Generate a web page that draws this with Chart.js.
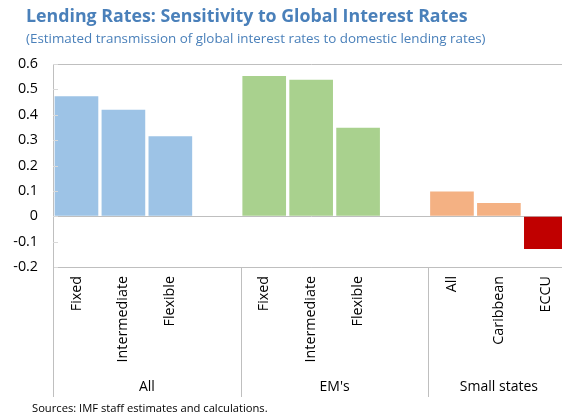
<!DOCTYPE html>
<html>
<head>
<meta charset="utf-8">
<script src="https://cdn.jsdelivr.net/npm/chart.js@4/dist/chart.umd.min.js"></script>
<style>
  html, body { margin: 0; padding: 0; background: #fff; overflow: hidden; }
  #wrap { width: 562px; height: 416px; overflow: hidden; position: relative; }
  canvas { display: block; }
</style>
</head>
<body>
<div id="wrap"><canvas id="chart" width="572" height="416"></canvas></div>
<script>
// Category labels along the x axis (blank entries separate the groups)
const categories = ["Fixed", "Intermediate", "Flexible", "", "Fixed", "Intermediate", "Flexible", "", "All", "Caribbean", "ECCU"];
// Estimated pass-through of global rates to domestic lending rates
const sensitivity = [0.473, 0.42, 0.315, null, 0.553, 0.538, 0.349, null, 0.098, 0.052, -0.129];
// Group captions under the category labels and how many slots each spans
const groupLabels = ["All", "EM's", "Small states"];
const groupSpans = [4, 4, 3];
// Value axis ticks
const yTicks = [0.6, 0.5, 0.4, 0.3, 0.2, 0.1, 0, -0.1, -0.2];

const barColors = ["#9DC3E6", "#9DC3E6", "#9DC3E6", "#9DC3E6",
                   "#A9D18E", "#A9D18E", "#A9D18E", "#A9D18E",
                   "#F4B183", "#F4B183", "#C00000"];

const FONT = "'Open Sans', 'Noto Sans', sans-serif";
const AXIS_GRAY = "#BFBFBF";

// Title, subtitle, inner tick marks, group dividers, group captions and source note
const decorations = {
  id: "decorations",
  afterDraw(chart) {
    const ctx = chart.ctx;
    const area = chart.chartArea;
    const x = chart.scales.x;
    const y = chart.scales.y;
    ctx.save();

    // inner tick marks on the value axis
    ctx.strokeStyle = "#D9D9D9";
    ctx.lineWidth = 1;
    yTicks.forEach(v => {
      const py = Math.round(y.getPixelForValue(v)) + 0.5;
      ctx.beginPath();
      ctx.moveTo(area.left, py);
      ctx.lineTo(area.left + 5, py);
      ctx.stroke();
    });

    // vertical dividers in the label area
    const half = (x.getPixelForValue(1) - x.getPixelForValue(0)) / 2;
    const bottom = 397;
    ctx.strokeStyle = AXIS_GRAY;
    let idx = 0;
    const edges = [area.left];
    groupSpans.forEach(n => { idx += n; edges.push(x.getPixelForValue(idx - 1) + half); });
    edges.forEach(px => {
      const ax = Math.round(px) + 0.5;
      ctx.beginPath();
      ctx.moveTo(ax, area.bottom);
      ctx.lineTo(ax, bottom);
      ctx.stroke();
    });

    // group captions
    ctx.fillStyle = "#000";
    ctx.font = "14px " + FONT;
    ctx.textAlign = "center";
    ctx.textBaseline = "middle";
    groupLabels.forEach((g, i) => {
      ctx.fillText(g, (edges[i] + edges[i + 1]) / 2, 387);
    });

    // headings
    ctx.textAlign = "left";
    ctx.textBaseline = "alphabetic";
    ctx.fillStyle = "#4A80BA";
    ctx.font = "bold 17.8px " + FONT;
    ctx.fillText("Lending Rates: Sensitivity to Global Interest Rates", 26, 22);
    ctx.font = "13.4px " + FONT;
    ctx.fillText("(Estimated transmission of global interest rates to domestic lending rates)", 26, 43);

    // source note
    ctx.fillStyle = "#000";
    ctx.font = "11.2px " + FONT;
    ctx.fillText("Sources: IMF staff estimates and calculations.", 32, 412);
    ctx.restore();
  }
};

new Chart(document.getElementById("chart"), {
  type: "bar",
  data: {
    labels: categories,
    datasets: [{
      data: sensitivity,
      backgroundColor: barColors,
      borderWidth: 0,
      barPercentage: 0.93,
      categoryPercentage: 1.0
    }]
  },
  options: {
    responsive: false,
    animation: false,
    layout: { padding: { top: 64, left: 0, right: 0, bottom: 19 } },
    plugins: {
      legend: { display: false },
      tooltip: { enabled: false },
      title: { display: false }
    },
    scales: {
      x: {
        grid: { display: false, drawTicks: false },
        border: { display: true, color: AXIS_GRAY, width: 1 },
        ticks: {
          autoSkip: false,
          minRotation: 90,
          maxRotation: 90,
          padding: 9,
          color: "#000",
          font: { family: FONT, size: 14.3 }
        },
        afterFit(scale) { scale.height = 130; }
      },
      y: {
        min: -0.2,
        max: 0.6,
        afterBuildTicks(scale) { scale.ticks = yTicks.map(v => ({ value: v })); },
        grid: {
          drawTicks: false,
          color: ctx => {
            const v = ctx.tick ? ctx.tick.value : null;
            return (v === 0.6 || v === 0 || v === -0.2) ? AXIS_GRAY : "rgba(0,0,0,0)";
          }
        },
        border: { display: true, color: AXIS_GRAY, width: 1 },
        ticks: {
          padding: 15,
          color: "#000",
          font: { family: FONT, size: 14.3 },
          callback: v => String(Math.round(v * 10) / 10)
        },
        afterFit(scale) { scale.width = 53; }
      }
    }
  },
  plugins: [decorations]
});
</script>
</body>
</html>
